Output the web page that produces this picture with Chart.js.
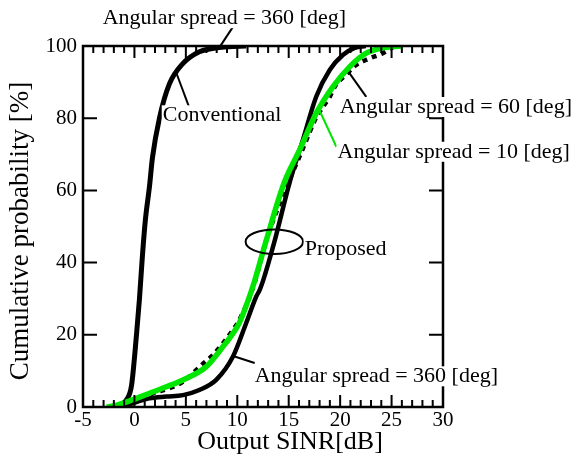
<!DOCTYPE html>
<html>
<head>
<meta charset="utf-8">
<script src="https://cdn.jsdelivr.net/npm/chart.js@4/dist/chart.umd.min.js"></script>
<style>
body{margin:0;background:#fff;}
canvas{display:block;}
</style>
</head>
<body>
<canvas id="chart" width="576" height="461"></canvas>
<script>
// Output SINR [dB] vs cumulative probability [%]
const convX = [-1.93,-1.15,-0.77,-0.28,0.20,0.49,0.78,1.07,1.46,1.75,2.43,3.40,4.66,6.31,7.57,9.02,10.86];
const convY = [0,1,2,6,20,30,42,52,61,69,80,89.5,95,98.4,99.3,99.8,100];

const prop360X = [-1.15,-0.18,1.46,3.11,4.72,6.31,7.95,9.57,10.86,11.83,12.17,12.51,13.63,15.12,16.38,17.68,19.0,20.26,21.42,22.49];
const prop360Y = [0,1,2.4,2.9,3.3,4.7,7.5,13.9,23.2,30.5,32.4,35,46,62.5,74,86,93.4,97.5,99.5,100];

const prop10X = [-2.70,-1.64,-0.18,1.46,3.11,4.72,6.99,8.60,10.18,10.86,11.64,12.80,14.54,16.06,17.68,19.29,20.94,22.54,24.04,25.98];
const prop10Y = [0,0.6,2,3.8,5.6,7.5,11.2,16.7,23.2,28,34.5,46,62,71.2,81.4,88.7,94.3,98,99.4,100];

const prop60X = [-2.12,-1.15,0.20,1.80,3.40,4.72,6.67,7.64,8.60,9.57,10.18,11.64,12.80,14.93,15.90,16.58,17.55,18.13,19.0,19.58,20.55,21.52,22.88,24.14,25.30];
const prop60Y = [0,0.8,2,3.8,5.2,7,12,14.4,17.6,21.3,24,34,46,62,68.4,73,79.5,82.3,86,89.2,92,94.7,96.6,98,100];

const xTicks = [-5,0,5,10,15,20,25,30];
const yTicks = [0,20,40,60,80,100];

// text notes and leader lines, in data units
const notes = [
  {text:'Angular spread = 360 [deg]', x:-3.09, y:107.7},
  {text:'Conventional', x:2.75, y:80.8},
  {text:'Angular spread = 60 [deg]', x:19.95, y:83.1},
  {text:'Angular spread = 10 [deg]', x:19.75, y:70.7},
  {text:'Proposed', x:16.55, y:43.8},
  {text:'Angular spread = 360 [deg]', x:11.69, y:8.5}
];
const leaders = [
  {x1:9.58, y1:105.3, x2:8.28, y2:99.7, color:'#000'},
  {x1:4.04, y1:92.8, x2:5.50, y2:81.7, color:'#000'},
  {x1:20.92, y1:92.4, x2:22.54, y2:85.9, color:'#000'},
  {x1:17.84, y1:83.1, x2:19.63, y2:72.1, color:'#00e600'},
  {x1:9.74, y1:14.0, x2:11.69, y2:12.2, color:'#000'}
];
const ring = {x:13.6, y:45.8, rx:2.79, ry:3.4};

const FONT = '"Liberation Serif", "Times New Roman", serif';

function pts(xs, ys){ return xs.map((x,i)=>({x:x, y:ys[i]})); }

const decor = {
  id:'decor',
  afterDatasetsDraw(c){
    const ctx = c.ctx, a = c.chartArea, xs = c.scales.x, ys = c.scales.y;
    ctx.save();
    ctx.strokeStyle = '#000';
    ctx.lineWidth = 2.5;
    ctx.strokeRect(a.left, a.top, a.right-a.left, a.bottom-a.top);
    // inward ticks
    ctx.lineWidth = 2;
    ctx.beginPath();
    for(let v=-5; v<=30; v++){
      const px = xs.getPixelForValue(v);
      const len = v%5===0 ? 12 : 7;
      ctx.moveTo(px, a.bottom); ctx.lineTo(px, a.bottom-len);
      ctx.moveTo(px, a.top); ctx.lineTo(px, a.top+len);
    }
    yTicks.forEach(v=>{
      const py = ys.getPixelForValue(v);
      ctx.moveTo(a.left, py); ctx.lineTo(a.left+14, py);
      ctx.moveTo(a.right, py); ctx.lineTo(a.right-14, py);
    });
    ctx.stroke();
    // leader lines
    leaders.forEach(l=>{
      ctx.strokeStyle = l.color;
      ctx.beginPath();
      ctx.moveTo(xs.getPixelForValue(l.x1), ys.getPixelForValue(l.y1));
      ctx.lineTo(xs.getPixelForValue(l.x2), ys.getPixelForValue(l.y2));
      ctx.stroke();
    });
    // ellipse around proposed curves
    const cx = xs.getPixelForValue(ring.x), cy = ys.getPixelForValue(ring.y);
    const rx = xs.getPixelForValue(ring.x+ring.rx)-cx, ry = cy-ys.getPixelForValue(ring.y+ring.ry);
    ctx.strokeStyle = '#000';
    ctx.beginPath();
    ctx.ellipse(cx, cy, rx, ry, 0, 0, Math.PI*2);
    ctx.stroke();
    // notes with white backing
    ctx.font = '22px ' + FONT;
    ctx.textBaseline = 'middle';
    ctx.textAlign = 'left';
    notes.forEach(n=>{
      const px = xs.getPixelForValue(n.x), py = ys.getPixelForValue(n.y);
      const w = ctx.measureText(n.text).width;
      ctx.fillStyle = '#fff';
      ctx.fillRect(px-1, py-10, w+2, 20);
      ctx.fillStyle = '#000';
      ctx.fillText(n.text, px, py);
    });
    // axis titles
    ctx.font = '26px ' + FONT;
    ctx.textAlign = 'center';
    ctx.fillText('Output SINR[dB]', 290, 442);
    ctx.translate(21, 231);
    ctx.rotate(-Math.PI/2);
    ctx.font = '27px ' + FONT;
    ctx.fillText('Cumulative probability [%]', 0, 0);
    ctx.restore();
  }
};

const chart = new Chart(document.getElementById('chart').getContext('2d'), {
  type:'line',
  data:{
    datasets:[
      {data:pts(prop10X, prop10Y), borderColor:'#00e600', borderWidth:5.5},
      {data:pts(prop60X, prop60Y), borderColor:'#000', borderWidth:4.5, borderDash:[5,5]},
      {data:pts(prop360X, prop360Y), borderColor:'#000', borderWidth:4.5},
      {data:pts(convX, convY), borderColor:'#000', borderWidth:5}
    ]
  },
  options:{
    responsive:false,
    animation:false,
    layout:{padding:{left:0, right:133, top:46, bottom:0}},
    elements:{point:{radius:0}, line:{cubicInterpolationMode:'monotone', fill:false}},
    plugins:{legend:{display:false}, tooltip:{enabled:false}},
    scales:{
      x:{
        type:'linear', min:-5, max:30,
        afterBuildTicks: s=>{ s.ticks = xTicks.map(v=>({value:v})); },
        afterFit: s=>{ s.height = 54; },
        grid:{display:false, drawTicks:false},
        border:{display:false},
        ticks:{color:'#000', padding:1, maxRotation:0, font:{family:FONT, size:21}}
      },
      y:{
        type:'linear', min:0, max:100,
        afterBuildTicks: s=>{ s.ticks = yTicks.map(v=>({value:v})); },
        afterFit: s=>{ s.width = 83; },
        grid:{display:false, drawTicks:false},
        border:{display:false},
        ticks:{color:'#000', padding:6, font:{family:FONT, size:21}}
      }
    }
  },
  plugins:[decor]
});
</script>
</body>
</html>
